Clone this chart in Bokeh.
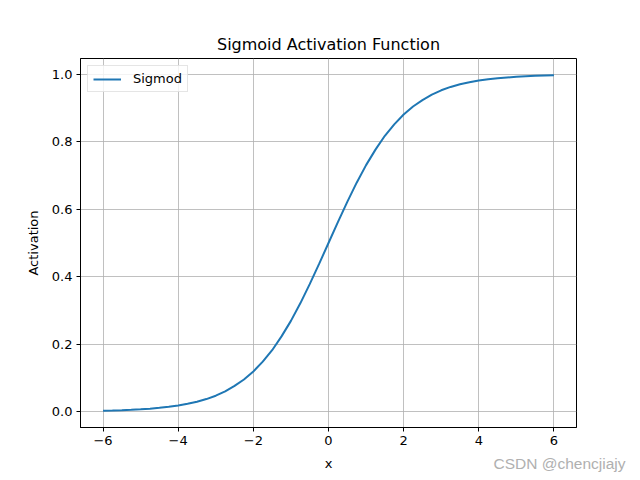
from bokeh.plotting import figure
from bokeh.models import Range1d, FixedTicker, Title, Legend, LegendItem
from bokeh.embed import file_html
from bokeh.resources import INLINE

x_vals = [-6.0, -5.75, -5.5, -5.25, -5.0, -4.75, -4.5, -4.25, -4.0, -3.75, -3.5, -3.25,
          -3.0, -2.75, -2.5, -2.25, -2.0, -1.75, -1.5, -1.25, -1.0, -0.75, -0.5, -0.25,
          0.0, 0.25, 0.5, 0.75, 1.0, 1.25, 1.5, 1.75, 2.0, 2.25, 2.5, 2.75, 3.0, 3.25,
          3.5, 3.75, 4.0, 4.25, 4.5, 4.75, 5.0, 5.25, 5.5, 5.75, 6.0]
activation = [0.0025, 0.0032, 0.0041, 0.0052, 0.0067, 0.0086, 0.011, 0.014, 0.018, 0.023,
              0.029, 0.037, 0.047, 0.060, 0.076, 0.095, 0.119, 0.148, 0.182, 0.223,
              0.269, 0.321, 0.378, 0.438, 0.500, 0.562, 0.622, 0.679, 0.731, 0.777,
              0.818, 0.852, 0.881, 0.905, 0.924, 0.940, 0.953, 0.963, 0.971, 0.977,
              0.982, 0.986, 0.989, 0.991, 0.993, 0.995, 0.996, 0.997, 0.9975]
x_ticks = [-6, -4, -2, 0, 2, 4, 6]
x_tick_labels = ["\u22126", "\u22124", "\u22122", "0", "2", "4", "6"]
y_ticks = [0.0, 0.2, 0.4, 0.6, 0.8, 1.0]
y_tick_labels = ["0.0", "0.2", "0.4", "0.6", "0.8", "1.0"]

FONT = "DejaVu Sans"

p = figure(width=640, height=480, output_backend="svg", toolbar_location=None,
           x_range=Range1d(-6.6, 6.6), y_range=Range1d(-0.0473, 1.0473),
           title="Sigmoid Activation Function")
p.min_border_left = 80
p.min_border_right = 64
p.min_border_top = 58
p.min_border_bottom = 53
p.background_fill_color = "white"
p.border_fill_color = "white"
p.outline_line_color = "black"
p.outline_line_width = 1

p.title.text_font = FONT
p.title.text_font_size = "16px"
p.title.text_font_style = "normal"
p.title.align = "center"
p.title.text_color = "black"
p.title.standoff = 9

r = p.line(x_vals, activation, line_color="#1f77b4", line_width=2)

for ax in (p.xaxis[0], p.yaxis[0]):
    ax.major_label_text_font = FONT
    ax.major_label_text_font_size = "13px"
    ax.major_label_text_color = "black"
    ax.axis_label_text_font = FONT
    ax.axis_label_text_font_size = "13px"
    ax.axis_label_text_font_style = "normal"
    ax.axis_label_text_color = "black"
    ax.major_tick_in = 0
    ax.major_tick_out = 4
    ax.minor_tick_line_color = None
    ax.axis_line_color = "black"
    ax.major_tick_line_color = "black"

p.xaxis.ticker = FixedTicker(ticks=x_ticks)
p.xaxis.major_label_overrides = {t: l for t, l in zip(x_ticks, x_tick_labels)}
p.xaxis.axis_label = "x"
p.xaxis.axis_label_standoff = 8
p.xaxis.major_label_standoff = 4

p.yaxis.ticker = FixedTicker(ticks=y_ticks)
p.yaxis.major_label_overrides = {t: l for t, l in zip(y_ticks, y_tick_labels)}
p.yaxis.axis_label = "Activation"
p.yaxis.axis_label_standoff = 8
p.yaxis.major_label_standoff = 4

p.xgrid.ticker = FixedTicker(ticks=x_ticks)
p.ygrid.ticker = FixedTicker(ticks=y_ticks)
for g in (p.xgrid[0], p.ygrid[0]):
    g.grid_line_color = "#b0b0b0"
    g.grid_line_width = 0.8

legend = Legend(items=[LegendItem(label="Sigmod", renderers=[r])], location="top_left")
legend.label_text_font = FONT
legend.label_text_font_size = "13px"
legend.label_text_color = "black"
legend.border_line_color = "#cccccc"
legend.border_line_width = 1
legend.background_fill_alpha = 0.8
legend.glyph_width = 28
legend.glyph_height = 14
legend.padding = 5
legend.margin = 7
legend.spacing = 0
legend.label_standoff = 12
p.add_layout(legend)

wm = Title(text="CSDN @chencjiajy", align="right", vertical_align="top", offset=-49,
           standoff=-38, text_font="Liberation Sans", text_font_size="15.5px",
           text_font_style="normal", text_color="#b0b0b0")
p.add_layout(wm, "below")

open("out.html", "w").write(file_html(p, INLINE))
